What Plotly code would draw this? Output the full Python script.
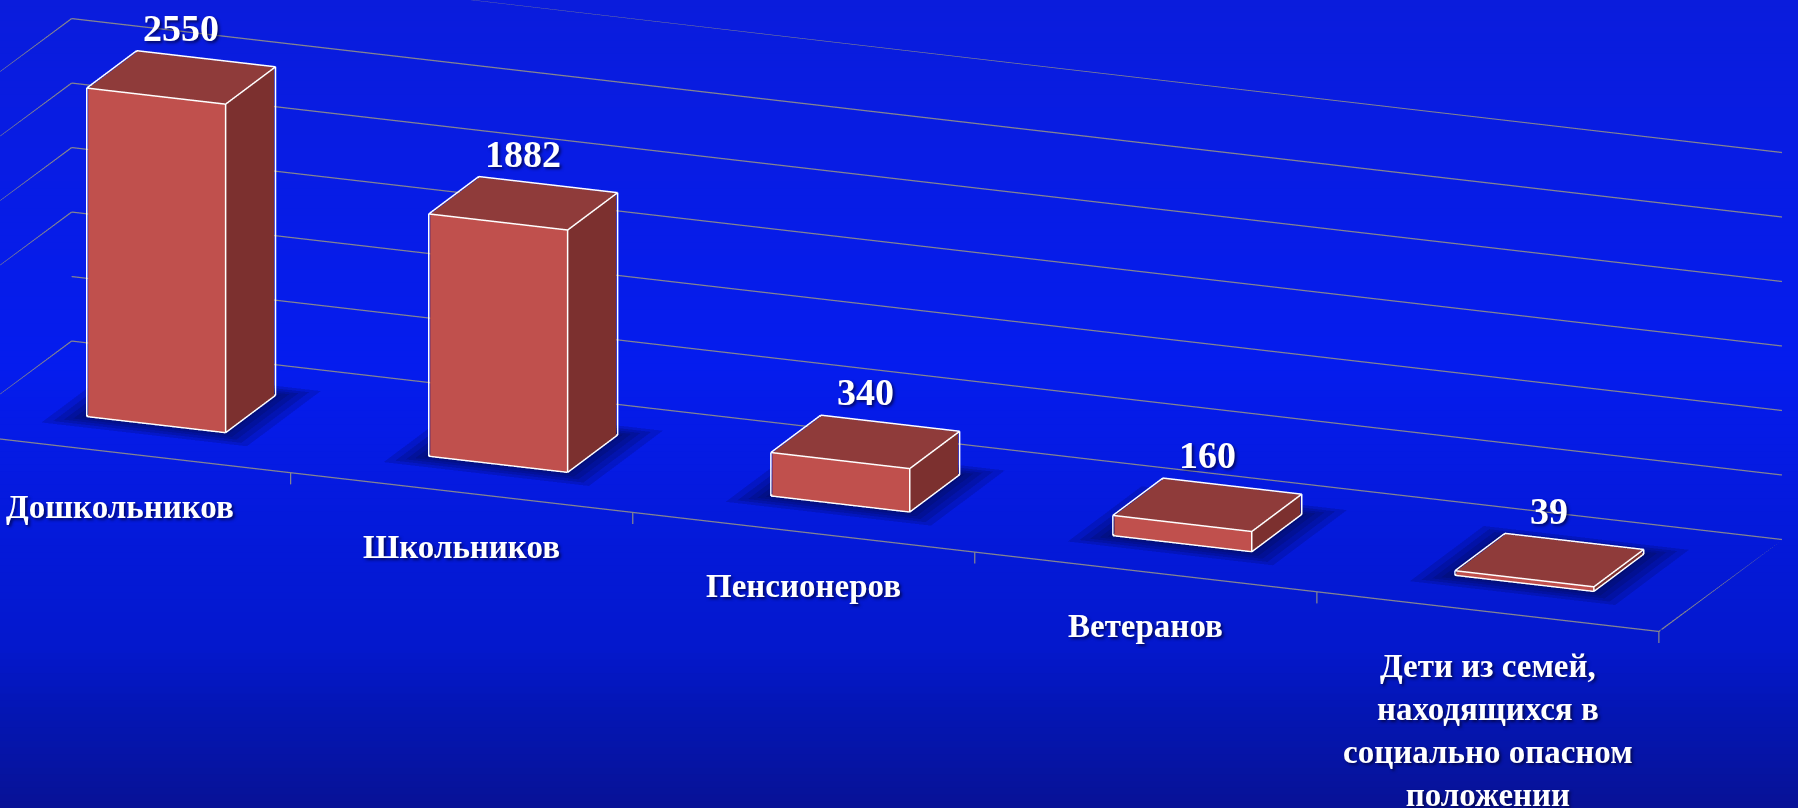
import plotly.graph_objects as go

# ---------------- data ----------------
categories = [
    ["Дошкольников"],
    ["Школьников"],
    ["Пенсионеров"],
    ["Ветеранов"],
    ["Дети из семей,", "находящихся в", "социально опасном", "положении"],
]
values = [2550, 1882, 340, 160, 39]
value_labels = ["2550", "1882", "340", "160", "39"]
grid_ticks = [0, 500, 1000, 1500, 2000, 2500, 3000]

# ---------------- style ----------------
FRONT = "#C0504D"
TOP = "#8F3B3A"
SIDE = "#7C302F"
GRID = "#85858F"
SHADOW_COL = "#000530"
BAR_W = 0.40
BAR_D = 0.40
FLOOR_D = 1.0
ZMIN, ZMAX = -90, 3000
FONT = "Liberation Serif, Times New Roman, serif"

n = len(values)
xlo, xhi = -0.5, n - 0.5

fig = go.Figure()

# ---- soft shadows on the floor under each bar (stacked translucent rings) ----
for level, grow in enumerate([0.10, 0.075, 0.052, 0.032, 0.014]):
    zz = 1 + level
    sx, sy, sz, si, sj, sk = [], [], [], [], [], []
    for i, v in enumerate(values):
        x0, x1 = i - BAR_W / 2 - grow, i + BAR_W / 2 + grow
        y0, y1 = FLOOR_D / 2 - BAR_D / 2 - grow, FLOOR_D / 2 + BAR_D / 2 + grow
        b = len(sx)
        sx += [x0, x1, x1, x0]
        sy += [y0, y0, y1, y1]
        sz += [zz, zz, zz, zz]
        si += [b, b]; sj += [b + 1, b + 2]; sk += [b + 2, b + 3]
    fig.add_trace(go.Mesh3d(
        x=sx, y=sy, z=sz, i=si, j=sj, k=sk, color=SHADOW_COL, opacity=0.16,
        flatshading=True,
        lighting=dict(ambient=1.0, diffuse=0.0, specular=0.0, roughness=1.0, fresnel=0.0),
        hoverinfo="skip", showscale=False,
    ))

# ---- wall grid lines (left wall + back wall, as separate segments) ----
gx, gy, gz = [], [], []
for t in grid_ticks:
    gx += [xlo, xlo, None, xlo, xhi, None]
    gy += [0, FLOOR_D, None, FLOOR_D, FLOOR_D, None]
    gz += [t, t, None, t, t, None]
# floor outline (front + right edge) and category ticks
gx += [xlo, xhi, None, xhi, xhi, None]
gy += [0, 0, None, 0, FLOOR_D, None]
gz += [0, 0, None, 0, 0, None]
for b in range(n + 1):
    xb = xlo + b
    gx += [xb, xb, None]
    gy += [0, 0, None]
    gz += [0, ZMIN, None]
fig.add_trace(go.Scatter3d(
    x=gx, y=gy, z=gz, mode="lines", line=dict(color=GRID, width=2.5),
    hoverinfo="skip", showlegend=False,
))

# ---- bars as boxes ----
vx, vy, vz, I, J, K, fcol = [], [], [], [], [], [], []
ex, ey, ez = [], [], []
for i, v in enumerate(values):
    x0, x1 = i - BAR_W / 2, i + BAR_W / 2
    yc = FLOOR_D / 2
    y0, y1 = yc - BAR_D / 2, yc + BAR_D / 2
    z0, z1 = 0, v
    base = len(vx)
    pts = [(x0, y0, z0), (x1, y0, z0), (x1, y1, z0), (x0, y1, z0),
           (x0, y0, z1), (x1, y0, z1), (x1, y1, z1), (x0, y1, z1)]
    for p in pts:
        vx.append(p[0]); vy.append(p[1]); vz.append(p[2])
    faces = [((0, 1, 5), FRONT), ((0, 5, 4), FRONT),
             ((3, 2, 6), SIDE), ((3, 6, 7), SIDE),
             ((0, 3, 7), SIDE), ((0, 7, 4), SIDE),
             ((1, 2, 6), SIDE), ((1, 6, 5), SIDE),
             ((0, 1, 2), SIDE), ((0, 2, 3), SIDE),
             ((4, 5, 6), TOP), ((4, 6, 7), TOP)]
    for (a, b, c), col in faces:
        I.append(base + a); J.append(base + b); K.append(base + c); fcol.append(col)
    # white edges, pushed very slightly outward so they sit on top of the faces
    e = 0.003
    X0, X1, Y0, Y1, Z0, Z1 = x0 - e, x1 + e, y0 - e, y1 + e, z0 + 7, z1 + 4
    corners = [(X0, Y0, Z0), (X1, Y0, Z0), (X1, Y1, Z0), (X0, Y1, Z0),
               (X0, Y0, Z1), (X1, Y0, Z1), (X1, Y1, Z1), (X0, Y1, Z1)]
    edges = [(0, 1), (1, 2), (2, 3), (3, 0), (4, 5), (5, 6), (6, 7), (7, 4),
             (0, 4), (1, 5), (2, 6), (3, 7)]
    for a, b in edges:
        for idx in (a, b):
            ex.append(corners[idx][0]); ey.append(corners[idx][1]); ez.append(corners[idx][2])
        ex.append(None); ey.append(None); ez.append(None)

fig.add_trace(go.Mesh3d(
    x=vx, y=vy, z=vz, i=I, j=J, k=K, facecolor=fcol, flatshading=True,
    lighting=dict(ambient=1.0, diffuse=0.0, specular=0.0, roughness=1.0, fresnel=0.0),
    hoverinfo="skip", showscale=False,
))
fig.add_trace(go.Scatter3d(
    x=ex, y=ey, z=ez, mode="lines", line=dict(color="white", width=3),
    hoverinfo="skip", showlegend=False,
))

# ---- annotations ----
SHADOW = "2px 2px 3px rgba(0,0,40,0.65)"
ann = []
for i, (v, t) in enumerate(zip(values, value_labels)):
    ann.append(dict(x=i, y=FLOOR_D / 2, z=v, text="<b>%s</b>" % t, showarrow=False,
                    xanchor="center", yanchor="bottom", yshift=27,
                    font=dict(family=FONT, size=38, color="white", shadow=SHADOW)))
for i, lines in enumerate(categories):
    ann.append(dict(x=i, y=0, z=0, text="<b>" + "<br>".join(lines) + "</b>",
                    showarrow=False, xanchor="center", yanchor="top", yshift=-34,
                    font=dict(family=FONT, size=33, color="white", shadow=SHADOW)))

# ---- background gradient (vertical) ----
stops = [(0.0, (10, 28, 220)), (0.45, (5, 28, 238)), (0.8, (4, 24, 205)),
         (0.88, (4, 22, 180)), (1.0, (8, 18, 150))]


def grad(t):
    for (t0, c0), (t1, c1) in zip(stops[:-1], stops[1:]):
        if t0 <= t <= t1:
            f = (t - t0) / (t1 - t0)
            return "rgb(%d,%d,%d)" % tuple(round(a + (b - a) * f) for a, b in zip(c0, c1))
    return "rgb(%d,%d,%d)" % stops[-1][1]


shapes = []
NS = 120
for s in range(NS):
    top = 1 - s / NS
    bot = 1 - (s + 1) / NS
    shapes.append(dict(type="rect", xref="paper", yref="paper", x0=0, x1=1,
                       y0=bot - 0.001, y1=top, fillcolor=grad((s + 0.5) / NS),
                       line=dict(width=0), layer="below"))

# ---- scene / camera (orthographic, rotated ~21deg, elevated ~17deg) ----
k = 0.91
asp = dict(x=(xhi - xlo) * k, y=0.913 * FLOOR_D * k, z=1.1015 * (ZMAX - ZMIN) / 3000 * k)
center = dict(x=0.0986 * k, y=0.0, z=-(1455 - 668) / 3000 * 1.1015 * k)
d = 5.0
dirv = (0.3503, -0.8893, 0.2946)
eye = dict(x=center["x"] + d * dirv[0], y=center["y"] + d * dirv[1], z=center["z"] + d * dirv[2])

fig.update_layout(
    width=1798, height=808,
    margin=dict(l=0, r=0, t=0, b=0),
    paper_bgcolor="#061CE6",
    shapes=shapes,
    showlegend=False,
    scene=dict(
        domain=dict(x=[0, 1], y=[0, 1]),
        bgcolor="rgba(0,0,0,0)",
        aspectmode="manual", aspectratio=asp,
        xaxis=dict(visible=False, range=[xlo, xhi], autorange=False),
        yaxis=dict(visible=False, range=[0, FLOOR_D], autorange=False),
        zaxis=dict(range=[ZMIN, ZMAX], autorange=False, tickvals=grid_ticks,
                   showticklabels=False, ticks="", showgrid=False,
                   zeroline=False, showline=False, showbackground=False,
                   showspikes=False, title=dict(text="")),
        camera=dict(projection=dict(type="orthographic"), up=dict(x=0, y=0, z=1),
                    center=center, eye=eye),
        annotations=ann,
    ),
)

fig.write_html("out.html", config={"displayModeBar": False},
               post_script="document.body.style.margin='0';document.body.style.overflow='hidden';")
